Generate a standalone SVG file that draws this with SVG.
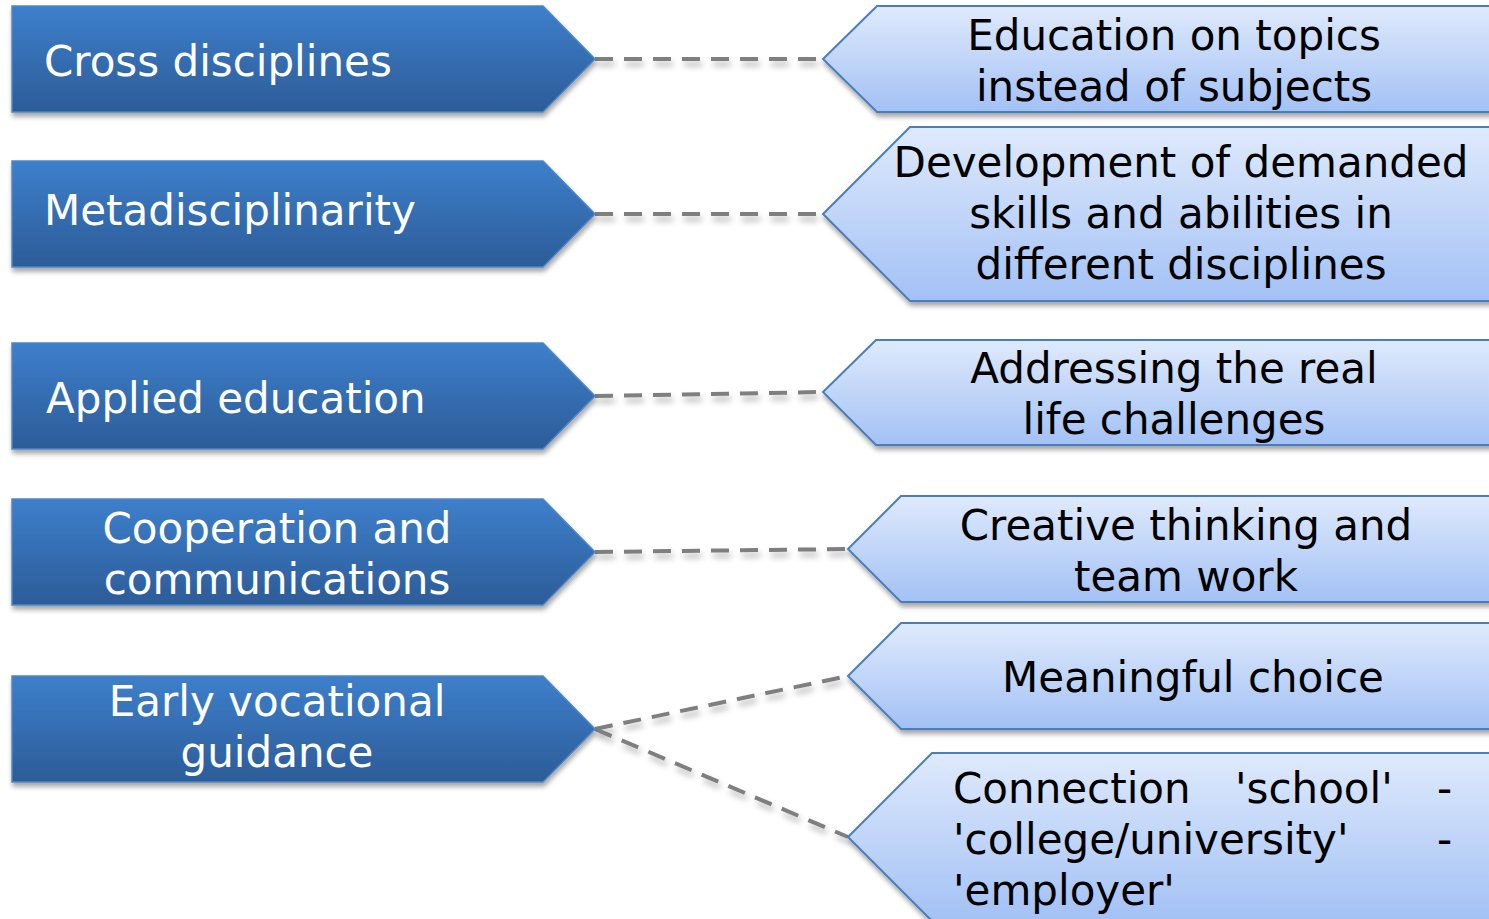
<svg xmlns="http://www.w3.org/2000/svg" width="1489" height="919" viewBox="0 0 1489 919">
  <defs>
    <linearGradient id="gDark" x1="0" y1="0" x2="0" y2="1">
      <stop offset="0" stop-color="#3d7fcb"/>
      <stop offset="1" stop-color="#2c5c98"/>
    </linearGradient>
    <linearGradient id="gLight" x1="0" y1="0" x2="0" y2="1">
      <stop offset="0" stop-color="#dfeafc"/>
      <stop offset="1" stop-color="#a3c1f5"/>
    </linearGradient>
    <filter id="shadow" x="-5%" y="-10%" width="110%" height="130%">
      <feDropShadow dx="1" dy="4" stdDeviation="2.5" flood-color="#000" flood-opacity="0.35"/>
    </filter>
    <!-- user-space region so horizontal lines (zero-height bbox) still render -->
    <filter id="lineShadow" filterUnits="userSpaceOnUse" x="0" y="0" width="1489" height="919">
      <feDropShadow dx="2" dy="5" stdDeviation="3" flood-color="#000" flood-opacity="0.3"/>
    </filter>
  </defs>
  <style>
    .left { fill: url(#gDark); stroke: #4f86c6; stroke-width: 1.5; filter: url(#shadow); }
    .right { fill: url(#gLight); stroke: #4a7ebb; stroke-width: 2; filter: url(#shadow); }
    .lt { font-family: "DejaVu Sans", Verdana, sans-serif; font-size: 42px; fill: #ffffff; }
    .rt { font-family: "DejaVu Sans", Verdana, sans-serif; font-size: 42px; fill: #000000; text-anchor: middle; }
    .rj { font-family: "DejaVu Sans", Verdana, sans-serif; font-size: 42px; fill: #000000; }
    .conn { stroke: #7f7f7f; stroke-width: 4; stroke-dasharray: 18 11; fill: none; filter: url(#lineShadow); }
  </style>

  <!-- dashed connectors -->
  <g id="connectors">
    <line class="conn" x1="595" y1="59" x2="823" y2="59"/>
    <line class="conn" x1="595" y1="214" x2="823" y2="214"/>
    <line class="conn" x1="595" y1="396" x2="823" y2="392"/>
    <line class="conn" x1="595" y1="552" x2="848" y2="549"/>
    <line class="conn" x1="595" y1="729" x2="848" y2="676"/>
    <line class="conn" x1="595" y1="729" x2="848" y2="837"/>
  </g>

  <!-- left column: dark arrows -->
  <g id="cross-disciplines">
    <path class="left" d="M12,6 H543 L595,59 L543,112 H12 Z"/>
    <text class="lt" x="44" y="76">Cross disciplines</text>
  </g>
  <g id="metadisciplinarity">
    <path class="left" d="M12,161 H543 L595,214 L543,267 H12 Z"/>
    <text class="lt" x="44" y="225">Metadisciplinarity</text>
  </g>
  <g id="applied-education">
    <path class="left" d="M12,343 H543 L595,396 L543,449 H12 Z"/>
    <text class="lt" x="46" y="413">Applied education</text>
  </g>
  <g id="cooperation">
    <path class="left" d="M12,499 H543 L595,552 L543,605 H12 Z"/>
    <text class="lt" x="277" y="543" text-anchor="middle">Cooperation and</text>
    <text class="lt" x="277" y="594" text-anchor="middle">communications</text>
  </g>
  <g id="early-vocational">
    <path class="left" d="M12,676 H543 L595,729 L543,782 H12 Z"/>
    <text class="lt" x="277" y="716" text-anchor="middle">Early vocational</text>
    <text class="lt" x="277" y="767" text-anchor="middle">guidance</text>
  </g>

  <!-- right column: light arrows -->
  <g id="topics">
    <path class="right" d="M1495,6 H877 L823,59 L877,112 H1495"/>
    <text class="rt" x="1174" y="50">Education on topics</text>
    <text class="rt" x="1174" y="101">instead of subjects</text>
  </g>
  <g id="skills">
    <path class="right" d="M1495,127 H910 L823,214 L910,301 H1495"/>
    <text class="rt" x="1181" y="177">Development of demanded</text>
    <text class="rt" x="1181" y="228">skills and abilities in</text>
    <text class="rt" x="1181" y="279">different disciplines</text>
  </g>
  <g id="real-life">
    <path class="right" d="M1495,340 H876 L823,392 L876,445 H1495"/>
    <text class="rt" x="1174" y="383">Addressing the real</text>
    <text class="rt" x="1174" y="434">life challenges</text>
  </g>
  <g id="creative">
    <path class="right" d="M1495,496 H901 L848,549 L901,602 H1495"/>
    <text class="rt" x="1186" y="540">Creative thinking and</text>
    <text class="rt" x="1186" y="591">team work</text>
  </g>
  <g id="choice">
    <path class="right" d="M1495,623 H901 L848,676 L901,729 H1495"/>
    <text class="rt" x="1193" y="692">Meaningful choice</text>
  </g>
  <g id="connection">
    <path class="right" d="M1495,753 H932 L848,837 L932,921 H1495"/>
    <text class="rj" x="953" y="803">Connection</text>
    <text class="rj" x="1235" y="803">'school'</text>
    <text class="rj" x="1437" y="803">-</text>
    <text class="rj" x="953" y="854">'college/university'</text>
    <text class="rj" x="1437" y="854">-</text>
    <text class="rj" x="953" y="905">'employer'</text>
  </g>
</svg>
